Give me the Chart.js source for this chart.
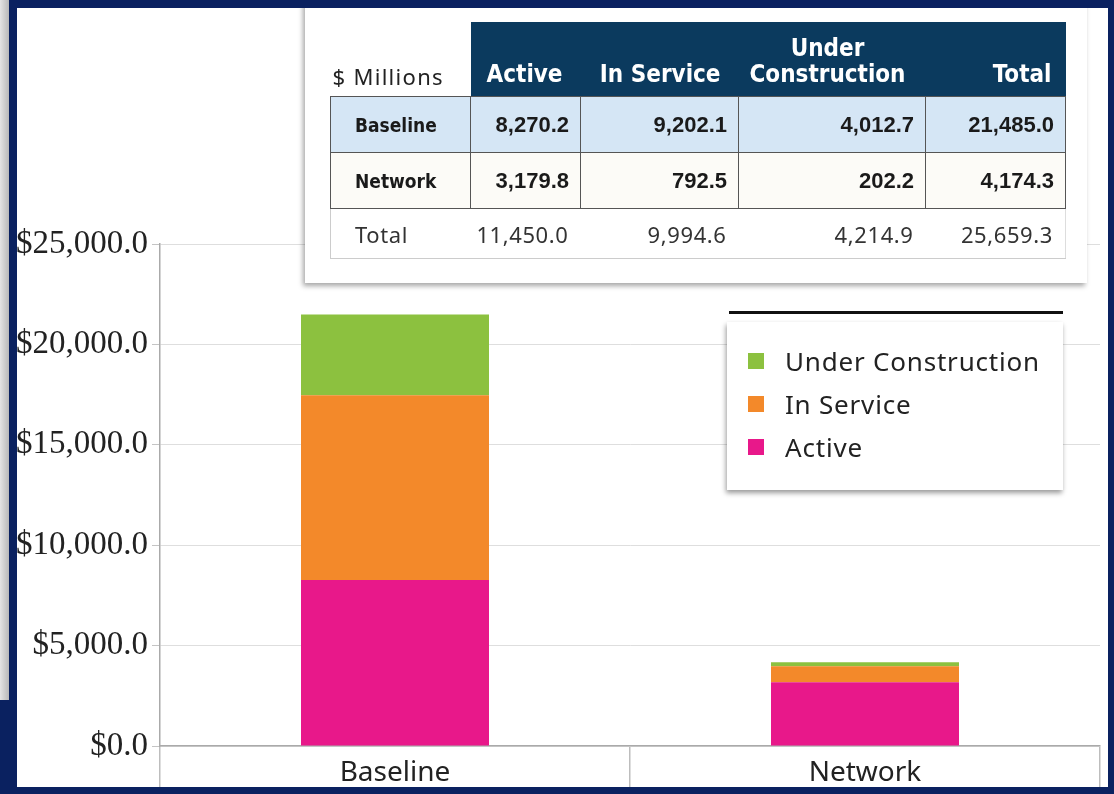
<!DOCTYPE html>
<html>
<head>
<meta charset="utf-8">
<script src="https://cdn.jsdelivr.net/npm/chart.js@4.4.1/dist/chart.umd.min.js"></script>
<style>
  html, body { margin: 0; padding: 0; }
  body { width: 1114px; height: 794px; background: #0a2160; position: relative; overflow: hidden; }
  #strip { position: absolute; left: 0; top: 0; width: 9px; height: 700px; background: linear-gradient(to right, #e4e4e4, #b8b8b8); }
  #panel { position: absolute; left: 17px; top: 8px; width: 1091px; height: 779px; background: #fff; overflow: hidden; }
  #wrap { position: absolute; left: 0; top: 0; width: 1091px; height: 779px; }
  #card { position: absolute; left: 288px; top: -10px; width: 782px; height: 285px; background: #fff;
          box-shadow: -2px 3px 5px rgba(0,0,0,0.35); }
  table { position: absolute; left: 313px; top: 14px; border-collapse: collapse; table-layout: fixed; }
  th, td { padding: 0; }
  th { background: #0b3a5e; color: #fff; font-family: "Liberation Sans Narrow", "DejaVu Sans Condensed", sans-serif;
       font-stretch: condensed; font-weight: bold; font-size: 24px; text-align: right; vertical-align: bottom;
       padding: 0 18px 9px 0; line-height: 26px; height: 65px; }
  th.corner { background: #fff; color: #222; font-family: "Noto Sans", sans-serif; font-weight: normal; font-stretch: normal;
       font-size: 22px; text-align: left; padding: 0 0 7px 2px; letter-spacing: 1.3px; }
  th.under { padding-right: 20px; }
  th.under span { display: inline-block; text-align: center; }
  td { height: 55px; border: 1px solid #555; font-family: "Liberation Sans", Arial, sans-serif; font-weight: bold; font-size: 22px;
       text-align: right; padding-right: 11px; color: #1a1a1a; }
  td.lab { text-align: left; padding-left: 24px; font-family: "Liberation Sans Narrow", "DejaVu Sans Condensed", sans-serif;
       font-stretch: condensed; font-size: 19px; }
  tr.base td { background: #d5e6f5; }
  tr.net td { background: #fcfbf7; }
  tr.tot td { height: 49px; border: none; border-bottom: 1px solid #ccc; font-family: "Noto Sans", sans-serif; font-weight: normal;
       font-size: 22px; letter-spacing: 0.6px; color: #333; background: #fff; padding-right: 12px; }
  tr.tot td.lab { font-family: "Noto Sans", sans-serif; font-stretch: normal; font-size: 22px; border-left: 1px solid #ccc; padding-left: 24px; }
  tr.tot td:last-child { border-right: 1px solid #ddd; }
  #legline { position: absolute; left: 712px; top: 303px; width: 334px; height: 3px; background: #111; }
  #legend { position: absolute; left: 710px; top: 314px; width: 336px; height: 168px; background: #fff;
            box-shadow: -1px 3px 5px rgba(0,0,0,0.4); font-family: "Noto Sans", sans-serif; font-size: 26px; color: #222; }
  .li { position: absolute; left: 21px; height: 32px; line-height: 32px; }
  .li i { position: absolute; left: 0; top: 8px; width: 16px; height: 16px; }
  .li span { position: absolute; left: 37px; white-space: nowrap; letter-spacing: 0.8px; }
</style>
</head>
<body>
<div id="strip"></div>
<div id="panel">
  <div id="wrap"><canvas id="chart"></canvas></div>
  <div id="card"></div>
  <table id="tbl"></table>
  <div id="legline"></div>
  <div id="legend"></div>
</div>
<script>
const categories = ['Baseline', 'Network'];
const active = [8270.2, 3179.8];
const inService = [9202.1, 792.5];
const underConstruction = [4012.7, 202.2];
const rowTotals = [21485.0, 4174.3];
const colTotals = [11450.0, 9994.6, 4214.9, 25659.3];
const yTicks = [0, 5000, 10000, 15000, 20000, 25000];

const fmt = v => v.toLocaleString('en-US', { minimumFractionDigits: 1, maximumFractionDigits: 1 });

// table above the chart
const tbl = document.getElementById('tbl');
const widths = [140, 110, 158, 187, 140];
let html = '<colgroup>' + widths.map(w => '<col style="width:' + w + 'px">').join('') + '</colgroup>';
html += '<tr><th class="corner">$ Millions</th><th>Active</th><th>In Service</th>' +
        '<th class="under"><span>Under<br>Construction</span></th><th style="padding-right:14px">Total</th></tr>';
categories.forEach((c, i) => {
    html += '<tr class="' + (i === 0 ? 'base' : 'net') + '"><td class="lab">' + c + '</td><td>' + fmt(active[i]) +
            '</td><td>' + fmt(inService[i]) + '</td><td>' + fmt(underConstruction[i]) + '</td><td>' + fmt(rowTotals[i]) + '</td></tr>';
});
html += '<tr class="tot"><td class="lab">Total</td>' + colTotals.map(v => '<td>' + fmt(v) + '</td>').join('') + '</tr>';
tbl.innerHTML = html;

const chart = new Chart(document.getElementById('chart'), {
    type: 'bar',
    data: {
        labels: categories,
        datasets: [
            { label: 'Active', data: active, backgroundColor: '#e8188a' },
            { label: 'In Service', data: inService, backgroundColor: '#f3892a' },
            { label: 'Under Construction', data: underConstruction, backgroundColor: '#8cc13f' }
        ]
    },
    options: {
        responsive: true,
        maintainAspectRatio: false,
        animation: false,
        barPercentage: 0.4,
        categoryPercentage: 1.0,
        layout: { padding: { top: 236, right: 8, left: 0, bottom: 0 } },
        plugins: { legend: { display: false }, tooltip: { enabled: false } },
        scales: {
            x: {
                stacked: true,
                grid: { offset: true, drawOnChartArea: false, tickLength: 41, color: '#bdbdbd', lineWidth: 1.5 },
                border: { color: '#aaa', width: 1.5 },
                ticks: { padding: -31, color: '#222', font: { family: 'Noto Sans', size: 28 } },
                afterFit: s => { s.height = 41; }
            },
            y: {
                stacked: true,
                min: 0,
                max: 25000,
                afterBuildTicks: s => { s.ticks = yTicks.map(v => ({ value: v })); },
                grid: { color: '#dedede', tickLength: 8, tickColor: '#c4c4c4' },
                border: { color: '#aaa', width: 1.5 },
                ticks: {
                    padding: 4,
                    color: '#222',
                    font: { family: 'Liberation Serif', size: 33 },
                    callback: v => '$' + fmt(v)
                },
                afterFit: s => { s.width = 143; }
            }
        }
    }
});

// legend built from the chart's datasets, top to bottom like the stack
const legend = document.getElementById('legend');
chart.data.datasets.slice().reverse().forEach((ds, i) => {
    const d = document.createElement('div');
    d.className = 'li';
    d.style.top = (23 + i * 43) + 'px';
    d.innerHTML = '<i style="background:' + ds.backgroundColor + '"></i><span>' + ds.label + '</span>';
    legend.appendChild(d);
});
</script>
</body>
</html>
